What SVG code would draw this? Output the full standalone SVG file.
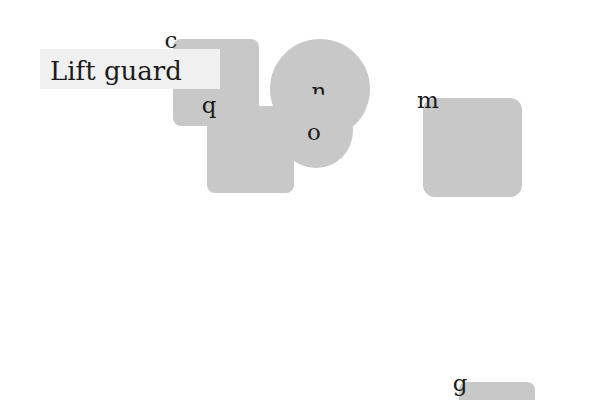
<svg xmlns="http://www.w3.org/2000/svg" width="600" height="400" viewBox="0 0 600 400">
<style>
.shape{fill:#c8c8c8}
.lbl{font-family:"DejaVu Serif","Liberation Serif",serif;font-size:23px;fill:#1a1a1a;text-anchor:middle}
.title{font-family:"DejaVu Serif","Liberation Serif",serif;font-size:26px;fill:#1a1a1a}
</style>
<rect width="600" height="400" fill="#ffffff"/>
<g id="node-c"><rect class="shape" x="173" y="39" width="86" height="87" rx="8"/></g>
<g id="node-q"><rect class="shape" x="207" y="106" width="87" height="87" rx="8"/></g>
<g id="node-n"><circle class="shape" cx="320" cy="89" r="50"/><text class="lbl" x="319" y="99">n</text></g>
<g id="node-o"><circle class="shape" cx="316" cy="131" r="37"/><text class="lbl" x="314" y="140">o</text></g>
<g id="node-m"><rect class="shape" x="423" y="98" width="99" height="99" rx="12"/><text class="lbl" x="428" y="108">m</text></g>
<g id="node-g"><rect class="shape" x="459" y="382" width="76" height="40" rx="8"/><text class="lbl" x="460" y="391">g</text></g>
<g id="title"><rect x="40" y="49" width="180" height="40" fill="#f0f0f0"/><text class="title" x="50" y="80">Lift guard</text></g>
<g id="labels"><text class="lbl" x="171" y="48">c</text><text class="lbl" x="209" y="113">q</text></g>
<g id="connectors"></g>
</svg>
